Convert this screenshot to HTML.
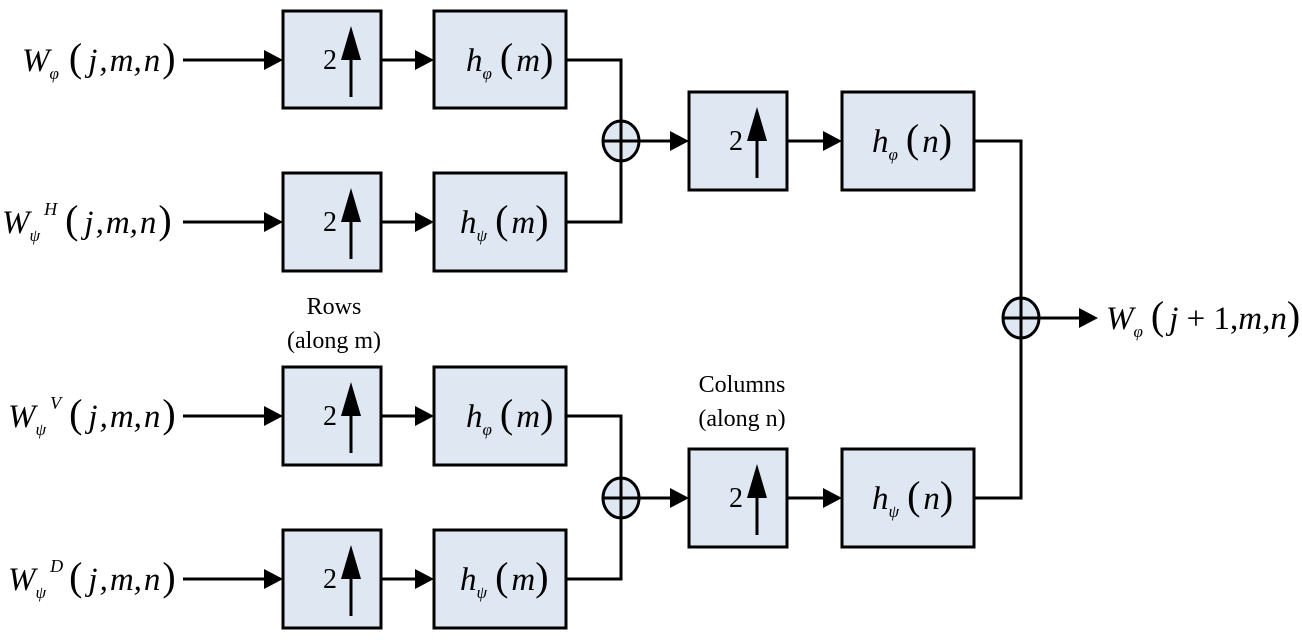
<!DOCTYPE html>
<html><head><meta charset="utf-8"><style>
html,body{margin:0;padding:0;background:#fff;}
svg{display:block;}
text{font-family:"Liberation Serif",serif;fill:#000;}
.it{font-style:italic;}
</style></head><body>
<svg width="1302" height="640" viewBox="0 0 1302 640" xmlns="http://www.w3.org/2000/svg">
<g stroke="#000" stroke-width="3" fill="none">
<line x1="183" y1="60" x2="264" y2="60"/>
<line x1="183" y1="222" x2="264" y2="222"/>
<line x1="183" y1="416" x2="264" y2="416"/>
<line x1="183" y1="579" x2="264" y2="579"/>
<line x1="381" y1="60" x2="416" y2="60"/>
<line x1="381" y1="222" x2="416" y2="222"/>
<line x1="381" y1="416" x2="416" y2="416"/>
<line x1="381" y1="579" x2="416" y2="579"/>
<polyline points="566,60 621,60 621,222 566,222"/>
<polyline points="566,416 621,416 621,579 566,579"/>
<line x1="639" y1="141" x2="671" y2="141"/>
<line x1="639" y1="498" x2="671" y2="498"/>
<line x1="787" y1="141" x2="824" y2="141"/>
<line x1="787" y1="498" x2="824" y2="498"/>
<polyline points="974,141 1021,141 1021,498 974,498"/>
<line x1="1039" y1="318" x2="1080" y2="318"/>
</g>
<g fill="#000">
<path d="M264,50 L283,60 L264,70z"/>
<path d="M264,212 L283,222 L264,232z"/>
<path d="M264,406 L283,416 L264,426z"/>
<path d="M264,569 L283,579 L264,589z"/>
<path d="M415,50 L434,60 L415,70z"/>
<path d="M415,212 L434,222 L415,232z"/>
<path d="M415,406 L434,416 L415,426z"/>
<path d="M415,569 L434,579 L415,589z"/>
<path d="M670,131 L689,141 L670,151z"/>
<path d="M670,488 L689,498 L670,508z"/>
<path d="M823,131 L842,141 L823,151z"/>
<path d="M823,488 L842,498 L823,508z"/>
<path d="M1079,308 L1098,318 L1079,328z"/>
</g>
<g fill="#dfe7f2" stroke="#000" stroke-width="3">
<rect x="283" y="11" width="98" height="97"/>
<rect x="283" y="173" width="98" height="98"/>
<rect x="283" y="367" width="98" height="98"/>
<rect x="283" y="530" width="98" height="98"/>
<rect x="434" y="11" width="132" height="97"/>
<rect x="434" y="173" width="132" height="98"/>
<rect x="434" y="367" width="132" height="98"/>
<rect x="434" y="530" width="132" height="98"/>
<rect x="689" y="92" width="98" height="98"/>
<rect x="689" y="449" width="98" height="98"/>
<rect x="842" y="92" width="132" height="98"/>
<rect x="842" y="449" width="132" height="98"/>
<ellipse cx="621" cy="141" rx="18" ry="20"/>
<ellipse cx="621" cy="498" rx="18" ry="20"/>
<ellipse cx="1021" cy="318" rx="18" ry="20"/>
</g>
<g stroke="#000" stroke-width="3">
<line x1="603" y1="141" x2="639" y2="141"/><line x1="621" y1="121" x2="621" y2="161"/>
<line x1="603" y1="498" x2="639" y2="498"/><line x1="621" y1="478" x2="621" y2="518"/>
<line x1="1003" y1="318" x2="1039" y2="318"/><line x1="1021" y1="298" x2="1021" y2="338"/>
</g>
<g stroke="#000" stroke-width="3">
<line x1="351" y1="50" x2="351" y2="97"/>
<line x1="351" y1="212" x2="351" y2="259"/>
<line x1="351" y1="406" x2="351" y2="453"/>
<line x1="351" y1="569" x2="351" y2="616"/>
<line x1="757" y1="131" x2="757" y2="178"/>
<line x1="757" y1="488" x2="757" y2="535"/>
</g>
<g fill="#000">
<path d="M341,60 L351,26 L361,60z"/>
<path d="M341,222 L351,188 L361,222z"/>
<path d="M341,416 L351,382 L361,416z"/>
<path d="M341,579 L351,545 L361,579z"/>
<path d="M747,141 L757,107 L767,141z"/>
<path d="M747,498 L757,464 L767,498z"/>
</g>
<g font-size="28">
<text x="323" y="69">2</text>
<text x="323" y="231">2</text>
<text x="323" y="425">2</text>
<text x="323" y="588">2</text>
<text x="729" y="150">2</text>
<text x="729" y="507">2</text>
</g>
<g font-size="33">
<text x="466" y="71"><tspan class="it">h</tspan><tspan class="it" font-size="17" dy="8">φ</tspan><tspan dy="-8" dx="8" font-size="40">(</tspan><tspan class="it" dx="3">m</tspan><tspan font-size="40">)</tspan></text>
<text x="460" y="233"><tspan class="it">h</tspan><tspan class="it" font-size="17" dy="8">ψ</tspan><tspan dy="-8" dx="8" font-size="40">(</tspan><tspan class="it" dx="3">m</tspan><tspan font-size="40">)</tspan></text>
<text x="466" y="427"><tspan class="it">h</tspan><tspan class="it" font-size="17" dy="8">φ</tspan><tspan dy="-8" dx="8" font-size="40">(</tspan><tspan class="it" dx="3">m</tspan><tspan font-size="40">)</tspan></text>
<text x="460" y="590"><tspan class="it">h</tspan><tspan class="it" font-size="17" dy="8">ψ</tspan><tspan dy="-8" dx="8" font-size="40">(</tspan><tspan class="it" dx="3">m</tspan><tspan font-size="40">)</tspan></text>
<text x="872" y="152"><tspan class="it">h</tspan><tspan class="it" font-size="17" dy="8">φ</tspan><tspan dy="-8" dx="8" font-size="40">(</tspan><tspan class="it" dx="3">n</tspan><tspan font-size="40">)</tspan></text>
<text x="872" y="509"><tspan class="it">h</tspan><tspan class="it" font-size="17" dy="8">ψ</tspan><tspan dy="-8" dx="8" font-size="40">(</tspan><tspan class="it" dx="3">n</tspan><tspan font-size="40">)</tspan></text>
</g>
<g font-size="33">
<text x="22" y="71"><tspan class="it">W</tspan><tspan class="it" font-size="17" dy="8">φ</tspan><tspan dy="-8" dx="10" font-size="40">(</tspan><tspan class="it" dx="6">j</tspan><tspan class="it" dx="2">,</tspan><tspan class="it" dx="2">m</tspan><tspan class="it">,</tspan><tspan class="it" dx="2">n</tspan><tspan font-size="40" dx="2">)</tspan></text>
<text x="2" y="233"><tspan class="it">W</tspan><tspan class="it" font-size="17" dy="8">ψ</tspan><tspan class="it" font-size="18" dy="-26" dx="4">H</tspan><tspan dy="18" dx="8" font-size="40">(</tspan><tspan class="it" dx="6">j</tspan><tspan class="it" dx="2">,</tspan><tspan class="it" dx="2">m</tspan><tspan class="it">,</tspan><tspan class="it" dx="2">n</tspan><tspan font-size="40" dx="2">)</tspan></text>
<text x="8" y="427"><tspan class="it">W</tspan><tspan class="it" font-size="17" dy="8">ψ</tspan><tspan class="it" font-size="18" dy="-26" dx="4">V</tspan><tspan dy="18" dx="8" font-size="40">(</tspan><tspan class="it" dx="6">j</tspan><tspan class="it" dx="2">,</tspan><tspan class="it" dx="2">m</tspan><tspan class="it">,</tspan><tspan class="it" dx="2">n</tspan><tspan font-size="40" dx="2">)</tspan></text>
<text x="8" y="590"><tspan class="it">W</tspan><tspan class="it" font-size="17" dy="8">ψ</tspan><tspan class="it" font-size="18" dy="-26" dx="4">D</tspan><tspan dy="18" dx="6" font-size="40">(</tspan><tspan class="it" dx="6">j</tspan><tspan class="it" dx="2">,</tspan><tspan class="it" dx="2">m</tspan><tspan class="it">,</tspan><tspan class="it" dx="2">n</tspan><tspan font-size="40" dx="2">)</tspan></text>
<text x="1106" y="329"><tspan class="it">W</tspan><tspan class="it" font-size="17" dy="8">φ</tspan><tspan dy="-8" dx="8" font-size="40">(</tspan><tspan class="it" dx="5">j</tspan><tspan> + 1,</tspan><tspan class="it">m</tspan><tspan class="it">,</tspan><tspan class="it">n</tspan><tspan font-size="40">)</tspan></text>
</g>
<g font-size="24" text-anchor="middle">
<text x="334" y="314">Rows</text>
<text x="334" y="348">(along m)</text>
<text x="742" y="392">Columns</text>
<text x="742" y="426">(along n)</text>
</g>
</svg>
</body></html>
